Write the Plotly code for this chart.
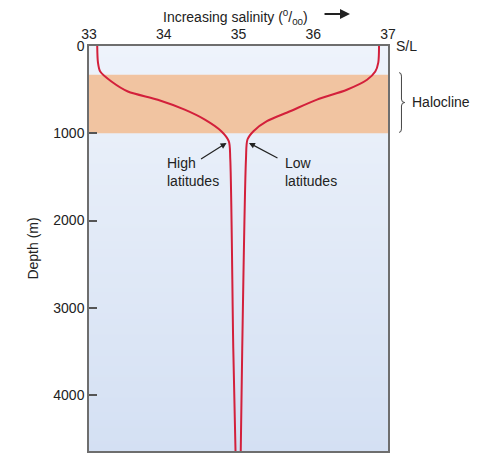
import plotly.graph_objects as go
import numpy as np

# ---- data ----
salinity_ticks = [33, 34, 35, 36, 37]
depth_ticks = [0, 1000, 2000, 3000, 4000]
depth_max = 4640

high_lat_depth = [0, 190, 293, 407, 521, 615, 729, 843, 976, 1090, 1298, 3462, 4640]
high_lat_sal = [33.11, 33.12, 33.15, 33.30, 33.52, 33.92, 34.28, 34.55, 34.77, 34.87, 34.89, 34.93, 34.96]

low_lat_depth = [0, 190, 293, 387, 501, 615, 748, 862, 976, 1071, 1298, 3462, 4640]
low_lat_sal = [36.88, 36.87, 36.83, 36.72, 36.45, 36.05, 35.69, 35.38, 35.20, 35.12, 35.10, 35.05, 35.03]

halocline_top = 330
halocline_bottom = 1000

FONT = "Liberation Sans, Arial, sans-serif"
TXT = "#222222"
RED = "#d3203b"

fig = go.Figure()

# background gradient
grad_y = np.linspace(0, depth_max, 40)
fig.add_trace(go.Heatmap(
    x=[33, 37], y=grad_y, z=[[v, v] for v in grad_y],
    colorscale=[[0, "#eef3fb"], [1, "#d4e0f3"]],
    showscale=False, zsmooth="best", hoverinfo="skip"))

# halocline band
fig.add_trace(go.Scatter(
    x=[33, 37, 37, 33, 33],
    y=[halocline_top, halocline_top, halocline_bottom, halocline_bottom, halocline_top],
    fill="toself", fillcolor="#f1c4a1", line=dict(width=0), mode="lines",
    hoverinfo="skip", showlegend=False))

for xs, ys in [(high_lat_sal, high_lat_depth), (low_lat_sal, low_lat_depth)]:
    fig.add_trace(go.Scatter(x=xs, y=ys, mode="lines",
                             line=dict(color=RED, width=2, shape="spline", smoothing=0.8),
                             showlegend=False, hoverinfo="skip"))

fig.update_xaxes(range=[33, 37], side="top", tickvals=salinity_ticks,
                 ticktext=[str(v) for v in salinity_ticks], ticks="",
                 showgrid=False, zeroline=False, showline=True, mirror=True,
                 linecolor="#6e6e6e", linewidth=1.5,
                 tickfont=dict(family=FONT, size=14, color=TXT))
fig.update_yaxes(range=[depth_max, 0], tickvals=depth_ticks,
                 ticktext=[str(v) for v in depth_ticks], ticks="inside", ticklen=8,
                 tickcolor="#555555", tickwidth=1.5,
                 showgrid=False, zeroline=False, showline=True, mirror=True,
                 linecolor="#6e6e6e", linewidth=1.5,
                 tickfont=dict(family=FONT, size=14, color=TXT),
                 title=dict(text="Depth (m)", font=dict(family=FONT, size=14, color=TXT), standoff=11))

ann = []
# x-axis title with arrow
ann.append(dict(xref="paper", yref="paper", x=0.5, y=1.071, xanchor="center", yanchor="middle",
                text="Increasing salinity (<sup>0</sup>/<sub>00</sub>)", showarrow=False,
                font=dict(family=FONT, size=14, color=TXT), xshift=-3))
ann.append(dict(xref="paper", yref="paper", x=0.873, y=1.079, text="", showarrow=True,
                ax=-27, ay=0, arrowhead=2, arrowsize=1, arrowwidth=2, arrowcolor=TXT))
# S/L
ann.append(dict(xref="paper", yref="y", x=1.02, y=0, xanchor="left", yanchor="middle",
                text="S/L", showarrow=False, font=dict(family=FONT, size=14, color=TXT)))
# Halocline
ann.append(dict(xref="paper", yref="y", x=1.072, y=(halocline_top + halocline_bottom) / 2 - 20,
                xanchor="left", yanchor="middle", text="Halocline", showarrow=False,
                font=dict(family=FONT, size=14, color=TXT)))
# labels
ann.append(dict(x=34.01, y=1446, xanchor="left", yanchor="middle", align="left",
                text="High<br>latitudes", showarrow=False, font=dict(family=FONT, size=14, color=TXT)))
ann.append(dict(x=35.59, y=1446, xanchor="left", yanchor="middle", align="left",
                text="Low<br>latitudes", showarrow=False, font=dict(family=FONT, size=14, color=TXT)))
ann.append(dict(x=34.84, y=1110, text="", showarrow=True, ax=-27, ay=17,
                arrowhead=2, arrowsize=1, arrowwidth=1.2, arrowcolor=TXT))
ann.append(dict(x=35.14, y=1110, text="", showarrow=True, ax=30, ay=16,
                arrowhead=2, arrowsize=1, arrowwidth=1.2, arrowcolor=TXT))

# brace for halocline
x0, x1, x2 = 1.037, 1.045, 1.056
yt, yb = halocline_top - 25, halocline_bottom - 10
ym = (yt + yb) / 2
d = 40
path = (f"M {x0},{yt} Q {x1},{yt} {x1},{yt+d} L {x1},{ym-d} Q {x1},{ym} {x2},{ym} "
        f"Q {x1},{ym} {x1},{ym+d} L {x1},{yb-d} Q {x1},{yb} {x0},{yb}")
fig.add_shape(type="path", xref="paper", yref="y", path=path,
              line=dict(color="#444444", width=1))

# page body has an 8px margin, so the figure is 8px smaller and margins reduced
fig.update_layout(width=470, height=446, margin=dict(l=81, r=90, t=38, b=1),
                  paper_bgcolor="white", plot_bgcolor="white",
                  annotations=ann, showlegend=False,
                  font=dict(family=FONT, color=TXT))

fig.write_html("out.html")
